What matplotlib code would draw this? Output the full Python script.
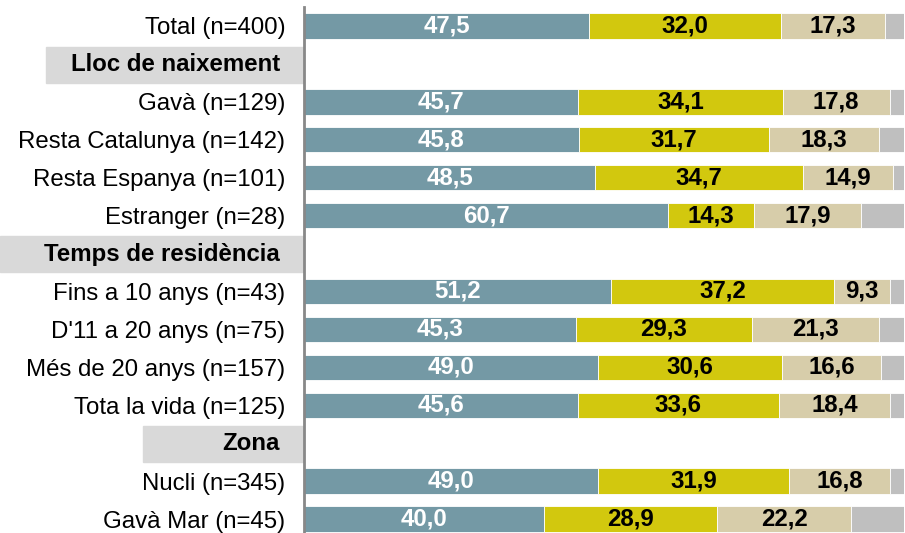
import numpy as np
import matplotlib.pyplot as plt
from matplotlib.patches import Rectangle

plt.rcParams['font.family'] = ['Liberation Sans', 'DejaVu Sans']

# rows top to bottom; None marks a group header
rows = ["Total (n=400)", None, "Gavà (n=129)", "Resta Catalunya (n=142)",
        "Resta Espanya (n=101)", "Estranger (n=28)", None,
        "Fins a 10 anys (n=43)", "D'11 a 20 anys (n=75)",
        "Més de 20 anys (n=157)", "Tota la vida (n=125)", None,
        "Nucli (n=345)", "Gavà Mar (n=45)"]
headers = ["Lloc de naixement", "Temps de residència", "Zona"]
header_left = [-0.43, -0.507, -0.268]   # box left edge, axes fraction

s1 = [47.5, None, 45.7, 45.8, 48.5, 60.7, None, 51.2, 45.3, 49.0, 45.6, None, 49.0, 40.0]
s2 = [32.0, None, 34.1, 31.7, 34.7, 14.3, None, 37.2, 29.3, 30.6, 33.6, None, 31.9, 28.9]
s3 = [17.3, None, 17.8, 18.3, 14.9, 17.9, None, 9.3, 21.3, 16.6, 18.4, None, 16.8, 22.2]
s4 = [3.2, None, 2.4, 4.2, 1.9, 7.1, None, 2.3, 4.1, 3.8, 2.4, None, 2.3, 8.9]

colors = ["#7499a5", "#d2c80e", "#d7cdaa", "#bfbfbf"]
txt_colors = ["white", "black", "black", None]

fig = plt.figure(figsize=(9.05, 5.33), dpi=100)
ax = fig.add_axes([304 / 905, 0, 600 / 905, 1 - 7 / 533])

y = np.arange(len(rows))
bar_rows = [i for i, r in enumerate(rows) if r is not None]
left = np.zeros(len(bar_rows))
for k, s in enumerate([s1, s2, s3, s4]):
    vals = np.array([s[i] for i in bar_rows])
    ax.barh(y[bar_rows], vals, left=left, height=0.67, color=colors[k],
            edgecolor="white", linewidth=0.6)
    if txt_colors[k]:
        for yy, l, v in zip(y[bar_rows], left, vals):
            ax.text(l + v / 2, yy, f"{v:.1f}".replace(".", ","), ha="center",
                    va="center", fontsize=17.3, fontweight="bold", color=txt_colors[k])
    left = left + vals

ax.set_xlim(0, 100)
ax.set_ylim(13 + 14 / 38, -0.5)
ax.set_yticks(y[bar_rows])
ax.set_yticklabels([rows[i] for i in bar_rows], fontsize=17.3)
ax.tick_params(axis="y", length=0, pad=13.5)
ax.set_xticks([])
for sp in ["top", "right", "bottom"]:
    ax.spines[sp].set_visible(False)
ax.spines["left"].set_color("#888888")
ax.spines["left"].set_linewidth(2)

trans = ax.get_yaxis_transform()
hrows = [i for i, r in enumerate(rows) if r is None]
for yy, name, xl in zip(hrows, headers, header_left):
    ax.add_patch(Rectangle((xl, yy - 0.45), -xl, 0.95, transform=trans,
                           color="#d9d9d9", clip_on=False, zorder=0))
    ax.text(-0.04, yy + 0.02, name, transform=trans, ha="right", va="center",
            fontsize=17.3, fontweight="bold")

fig.savefig("out.png", dpi=100)
